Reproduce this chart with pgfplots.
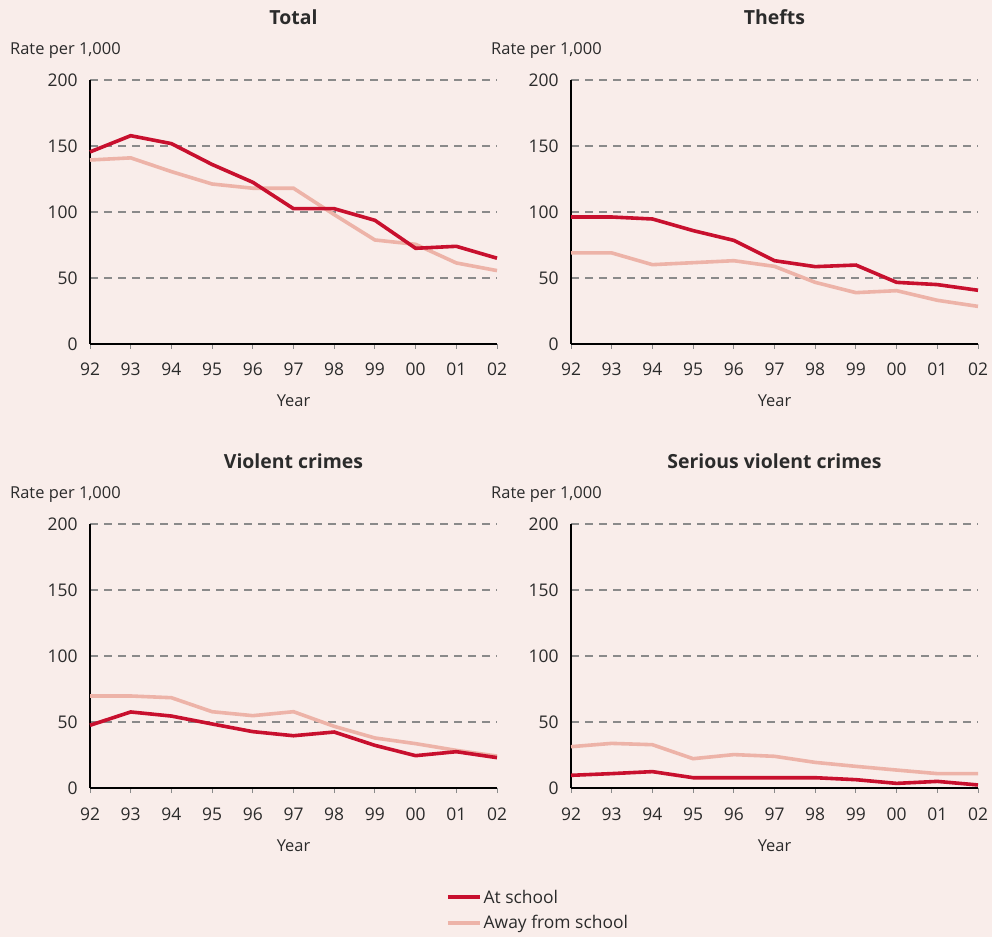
\documentclass[border=0pt]{standalone}
\usepackage{pgfplots}
\pgfplotsset{compat=1.18}
\usepackage{fontspec}
\setmainfont{Open Sans}
\definecolor{bg}{HTML}{F9EDEA}
\definecolor{darkred}{HTML}{C8102E}
\definecolor{lightred}{HTML}{EDB3A8}
\definecolor{txt}{HTML}{2B2B2B}
\definecolor{gridc}{HTML}{8A8A8A}
\pgfplotsset{
  panel/.style={
    scale only axis, width=407bp, height=264bp, anchor=south west,
    xmin=0, xmax=10, ymin=0, ymax=200,
    axis lines=left, axis line style={-, line width=1.2bp, black},
    xtick={0,...,10}, xticklabels={92,93,94,95,96,97,98,99,00,01,02},
    ytick={0,50,100,150,200},
    /pgf/number format/assume math mode=true,
    ymajorgrids, grid style={gridc, line width=1.1bp, dash pattern=on 8bp off 6bp},
    tick align=outside, major tick length=5bp,
    xtick style={gridc, line width=1bp}, ytick style={draw=none},
    tick label style={font=\fontsize{17.5}{20}\selectfont, text=txt},
    xticklabel style={anchor=base, yshift=-27bp},
    yticklabel style={anchor=east, xshift=-4bp},
    title style={at={(0.5,1)}, anchor=base, yshift=50bp, font=\bfseries\fontsize{19.5}{24}\selectfont, text=txt},
    xlabel={Year}, xlabel style={at={(0.5,0)}, anchor=base, yshift=-63bp, font=\fontsize{16.5}{20}\selectfont, text=txt},
    clip=false,
  },
  atS/.style={line width=3.6bp, darkred},
  awS/.style={line width=3.6bp, lightred},
}
\newcommand{\ratelabel}{\node[anchor=base west, font=\fontsize{16.5}{20}\selectfont, text=txt, inner sep=0pt] at (rel axis cs:0,1) [xshift=-80bp, yshift=25bp] {Rate per 1,000};}
\begin{document}
\begin{tikzpicture}
\fill[bg] (0,0) rectangle (992bp,937bp);
% Total
\begin{axis}[panel, at={(90bp,593bp)}, title={Total}]
\addplot[awS] coordinates {(0,139.4)(1,141)(2,130.6)(3,121.2)(4,118)(5,118)(6,98)(7,78.8)(8,75.5)(9,61.4)(10,55.6)};
\addplot[atS] coordinates {(0,145.5)(1,157.8)(2,151.8)(3,136)(4,122.5)(5,102.5)(6,102.5)(7,93.7)(8,72.5)(9,74)(10,65)};
\ratelabel
\end{axis}
% Thefts
\begin{axis}[panel, at={(571bp,593bp)}, title={Thefts}]
\addplot[awS] coordinates {(0,69)(1,69)(2,60.1)(3,61.6)(4,63.1)(5,58.8)(6,46.7)(7,38.9)(8,40.4)(9,33.1)(10,28.5)};
\addplot[atS] coordinates {(0,96.2)(1,96.2)(2,94.7)(3,85.9)(4,78.5)(5,63.1)(6,58.6)(7,59.8)(8,46.7)(9,45)(10,40.7)};
\ratelabel
\end{axis}
% Violent crimes
\begin{axis}[panel, at={(90bp,149bp)}, title={Violent crimes},
  legend style={at={(0.867,-0.37)}, anchor=north west, draw=none, fill=none,
    font=\fontsize{17.5}{20}\selectfont, text=txt, row sep=7bp,
    nodes={inner sep=2bp}},
  legend cell align=left,
  legend image code/.code={\draw[#1] (0bp,0bp) -- (32bp,0bp);},
  reverse legend]
\addplot[awS] coordinates {(0,69.7)(1,69.7)(2,68.4)(3,57.8)(4,54.8)(5,57.8)(6,46.7)(7,37.9)(8,33.6)(9,28.5)(10,24.2)};
\addlegendentry{Away from school}
\addplot[atS] coordinates {(0,47.5)(1,57.6)(2,54.5)(3,48.5)(4,42.7)(5,39.6)(6,42.4)(7,32.3)(8,24.5)(9,27.5)(10,23)};
\addlegendentry{At school}
\ratelabel
\end{axis}
% Serious violent crimes
\begin{axis}[panel, at={(571bp,149bp)}, title={Serious violent crimes}]
\addplot[awS] coordinates {(0,31.3)(1,33.8)(2,32.8)(3,22.2)(4,25.3)(5,24)(6,19.4)(7,16.4)(8,13.6)(9,10.9)(10,10.9)};
\addplot[atS] coordinates {(0,9.6)(1,10.9)(2,12.4)(3,7.8)(4,7.8)(5,7.8)(6,7.8)(7,6.3)(8,3.5)(9,5)(10,2.3)};
\ratelabel
\end{axis}
\end{tikzpicture}
\end{document}
